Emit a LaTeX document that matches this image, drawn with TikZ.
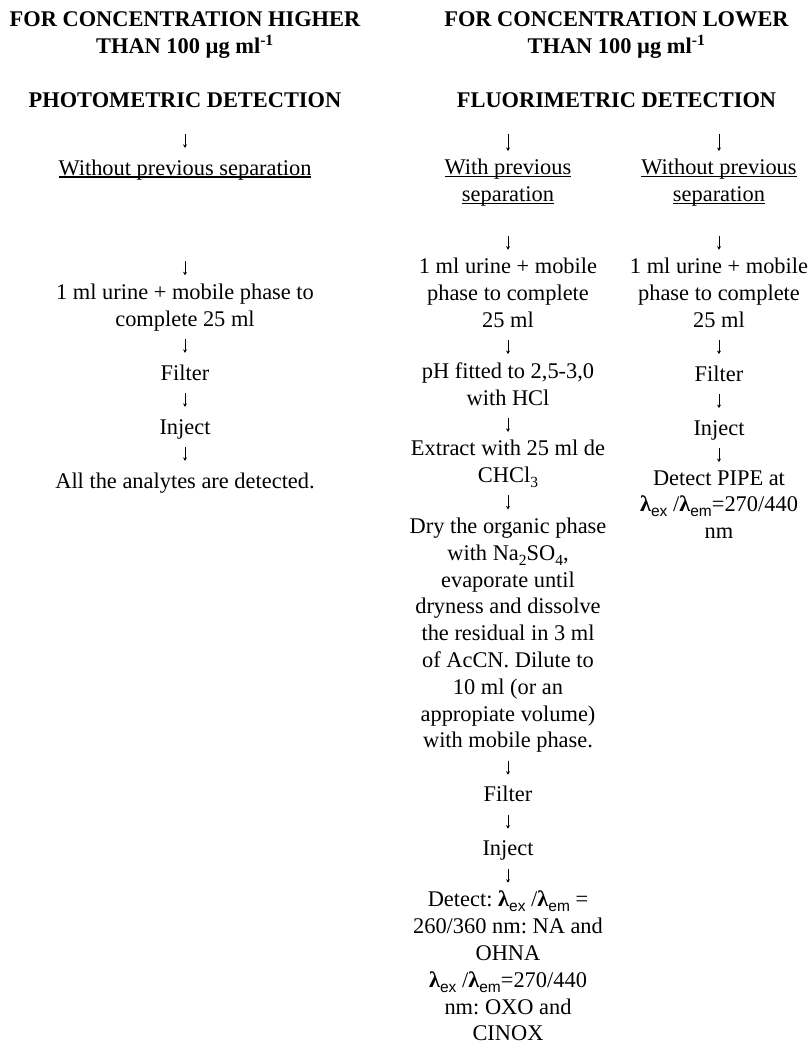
\documentclass[tikz,border=0pt]{standalone}
\usepackage{fontspec}
\setmainfont{Liberation Serif}
\setsansfont{Liberation Sans}
\usepackage{tikz}
\usetikzlibrary{positioning, arrows.meta}

\newcommand{\fs}{\fontsize{22.4}{26.8}\selectfont\frenchspacing}
\newlength{\ulwd}
\newcommand{\ulin}[1]{\settowidth{\ulwd}{#1}\rlap{\rule[-2.5pt]{\ulwd}{1.1pt}}#1}
\newcommand{\lo}[1]{\raisebox{-0.22em}{\fontsize{15.5}{15.5}\selectfont #1}}
\newcommand{\lamx}[1]{\textbf{λ}\lo{\sffamily #1}}

\tikzset{
    txt/.style={inner sep=0pt, align=center, font=\fs, execute at begin node=\strut, execute at end node=\strut},
    hd/.style={txt, font=\fs\bfseries},
    flow/.style={-{Stealth[length=3.5pt, width=4pt]}, line width=0.9pt, shorten <=4.6pt, shorten >=8.2pt}
}

\begin{document}
\begin{tikzpicture}[node distance=26.8pt]
    \useasboundingbox (0,0) rectangle (809pt,-1059pt);
    % headings
    \node[hd, anchor=north] (ltitle) at (185pt,-11.2pt) {FOR CONCENTRATION HIGHER\\ THAN 100 µg ml\smash{\textsuperscript{-1}}};
    \node[hd, anchor=north] (rtitle) at (616.5pt,-11.2pt) {FOR CONCENTRATION LOWER\\ THAN 100 µg ml\smash{\textsuperscript{-1}}};
    \node[hd, below=of ltitle] (photo) {PHOTOMETRIC DETECTION};
    \node[hd, below=of rtitle] (fluo) {FLUORIMETRIC DETECTION};

    % photometric branch
    \node[txt, below=40.8pt of photo] (lsep) {\ulin{Without previous separation}};
    \node[txt, below=100.2pt of lsep] (lmix) {1 ml urine + mobile phase to\\ complete 25 ml};
    \node[txt, below=of lmix] (lfilt) {Filter};
    \node[txt, below=of lfilt] (linj) {Inject};
    \node[txt, below=of linj] (ldet) {All the analytes are detected.};

    % fluorimetric branches
    \node[txt, anchor=north] (msep) at (508pt,-159.2pt) {\ulin{With previous}\\ \ulin{separation}};
    \node[txt, anchor=north] (rsep) at (719pt,-159.2pt) {\ulin{Without previous}\\ \ulin{separation}};
    \node[txt, below=47.9pt of msep] (mmix) {1 ml urine + mobile\\ phase to complete\\ 25 ml};
    \node[txt, below=of mmix] (mph) {pH fitted to 2,5-3,0\\ with HCl};
    \node[txt, below=of mph] (mext) {Extract with 25 ml de\\ CHCl\lo{3}};
    \node[txt, below=of mext] (mdry) {Dry the organic phase\\ with Na\lo{2}SO\lo{4},\\ evaporate until\\ dryness and dissolve\\ the residual in 3 ml\\ of AcCN. Dilute to\\ 10 ml (or an\\ appropiate volume)\\ with mobile phase.};
    \node[txt, below=of mdry] (mfilt) {Filter};
    \node[txt, below=of mfilt] (minj) {Inject};
    \node[txt, below=of minj] (mdet) {Detect: \lamx{ex} /\lamx{em} =\\ 260/360 nm: NA and\\ OHNA\\ \lamx{ex} /\lamx{em}=270/440\\ nm: OXO and\\ CINOX};
    \node[txt, below=47.9pt of rsep] (rmix) {1 ml urine + mobile\\ phase to complete\\ 25 ml};
    \node[txt, below=of rmix] (rfilt) {Filter};
    \node[txt, below=of rfilt] (rinj) {Inject};
    \node[txt, below=of rinj] (rdet) {Detect PIPE at\\ \lamx{ex} /\lamx{em}=270/440\\ nm};

    % arrows
    \draw[flow, shorten <=18.6pt] (photo) -- (lsep);
    \draw[flow, shorten <=78pt] (lsep) -- (lmix);
    \draw[flow, shorten <=18.6pt] (msep.north |- fluo.south) -- (msep);
    \draw[flow, shorten <=18.6pt] (rsep.north |- fluo.south) -- (rsep);
    \draw[flow, shorten <=25.7pt] (msep) -- (mmix);
    \draw[flow, shorten <=25.7pt] (rsep) -- (rmix);
    \foreach \a/\b in {lmix/lfilt, lfilt/linj, linj/ldet, mmix/mph, mph/mext, mext/mdry, mdry/mfilt, mfilt/minj, minj/mdet, rmix/rfilt, rfilt/rinj, rinj/rdet}
        \draw[flow] (\a) -- (\b);
\end{tikzpicture}
\end{document}
